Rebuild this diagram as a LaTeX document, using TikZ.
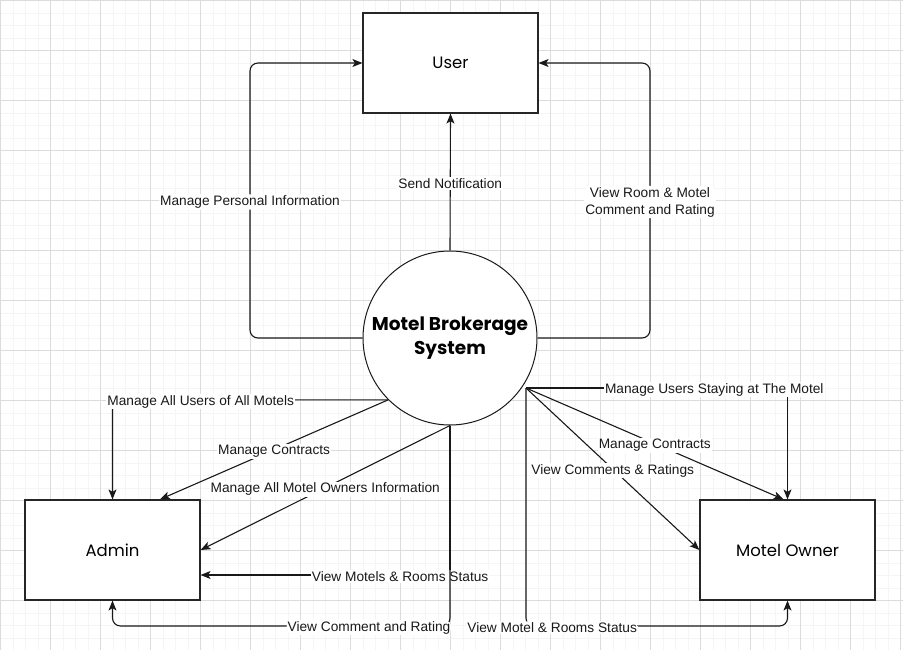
\documentclass[tikz,border=0pt]{standalone}
\usepackage{fontspec}
\setmainfont{Liberation Sans}
\newfontfamily\boxfont{Poppins}
\usetikzlibrary{arrows.meta}
\definecolor{minorgrid}{RGB}{245,245,245}
\definecolor{majorgrid}{RGB}{220,220,220}
\tikzset{
  boxnode/.style={draw=black!85, line width=1.2pt, fill=white, minimum width=175pt, minimum height=100pt, font=\boxfont\fontsize{16.5}{20}\selectfont, inner sep=0pt},
  sysnode/.style={circle, draw=black!90, line width=1pt, fill=white, minimum size=174pt, inner sep=0pt, align=center, font=\boxfont\bfseries\fontsize{18.5}{24}\selectfont},
  flow/.style={draw=black!90, line width=1.1pt, -{Stealth[length=10pt,width=8pt,inset=2.5pt]}},
  lbl/.style={fill=white, inner sep=1.2pt, yshift=-1.5pt, font=\fontsize{13.7}{17}\selectfont, text=black!90, align=center},
}
\begin{document}
\begin{tikzpicture}[x=1pt,y=-1pt]
\useasboundingbox (0,0) rectangle (903,650);
\fill[white] (0,0) rectangle (903,650);
% grid
\foreach \x in {0,12.5,...,903} \draw[minorgrid, line width=0.8pt] (\x+0.5,0) -- (\x+0.5,650);
\foreach \y in {0,12.5,...,650} \draw[minorgrid, line width=0.8pt] (0,\y+0.5) -- (903,\y+0.5);
\foreach \x in {0,50,...,900} \draw[majorgrid, line width=0.8pt] (\x+0.5,0) -- (\x+0.5,650);
\foreach \y in {0,50,...,650} \draw[majorgrid, line width=0.8pt] (0,\y+0.5) -- (903,\y+0.5);

% nodes
\node[boxnode] (user) at (450.5,63) {User};
\node[boxnode] (admin) at (112.5,550) {Admin};
\node[boxnode] (owner) at (787.5,550) {Motel Owner};
\node[sysnode] (sys) at (450,338) {Motel Brokerage\\System};
\coordinate (p) at (526,388);

% user edges
\draw[flow, rounded corners=8pt] (sys.west) -- (250,338) -- node[lbl]{Manage Personal Information} (250,63) -- (user.west);
\draw[flow] (sys.north) -- node[lbl]{Send Notification} (user.south);
\draw[flow, rounded corners=8pt] (sys.east) -- (650,338) -- node[lbl]{View Room \& Motel\\Comment and Rating} (650,63) -- (user.east);

% admin edges
\draw[flow] (sys.225) -- node[lbl, pos=0.68]{Manage All Users of All Motels} (112.5,400) -- (admin.north);
\draw[flow] (sys.225) -- node[lbl]{Manage Contracts} ([xshift=47.5pt]admin.north);
\draw[flow] (sys.south) -- node[lbl]{Manage All Motel Owners Information} (admin.east);
\draw[flow] (sys.south) -- (450,575) -- node[lbl, pos=0.2]{View Motels \& Rooms Status} ([yshift=-25pt]admin.east);
\draw[flow, rounded corners=8pt] (sys.south) -- (450,626) -- node[lbl, pos=0.24]{View Comment and Rating} (112.5,626) -- (admin.south);

% owner edges
\draw[flow] (p) -- node[lbl, pos=0.72]{Manage Users Staying at The Motel} (787.5,388) -- (owner.north);
\draw[flow] (p) -- node[lbl]{Manage Contracts} ([xshift=-4pt]owner.north);
\draw[flow] (p) -- node[lbl]{View Comments \& Ratings} (owner.west);
\draw[flow, rounded corners=8pt] (p) -- (526,626) -- node[lbl, pos=0.1]{View Motel \& Rooms Status} (787.5,626) -- (owner.south);
\end{tikzpicture}
\end{document}
